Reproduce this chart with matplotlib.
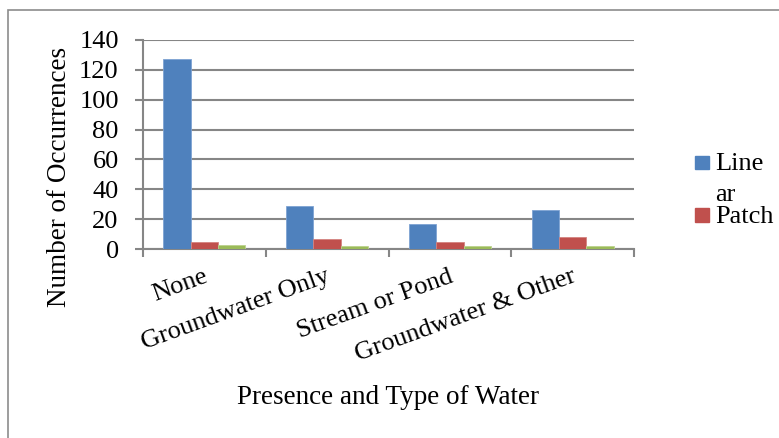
import matplotlib
matplotlib.use("Agg")
import matplotlib.pyplot as plt
from matplotlib.patches import Rectangle
import numpy as np

categories = ["None", "Groundwater Only", "Stream or Pond", "Groundwater & Other"]
linear = [127, 29, 17, 26]
patch = [5, 7, 5, 8]
other = [3, 2, 2, 2]
y_ticks = [0, 20, 40, 60, 80, 100, 120, 140]
legend_labels = ["Line\nar", "Patch"]

SERIF = ["Liberation Serif", "DejaVu Serif"]
plt.rcParams["font.family"] = SERIF
plt.rcParams["font.serif"] = SERIF

W, H = 779, 438
fig = plt.figure(figsize=(W / 100, H / 100), dpi=100)


def fx(px):
    return px / W


def fy(py):
    return 1 - py / H


# outer chart frame
fig.patches.append(Rectangle((fx(8), -0.05), 1.2, fy(10) + 0.05,
                             transform=fig.transFigure, fill=False,
                             edgecolor="#8c8c8c", linewidth=1.2))

ax = fig.add_axes([fx(143), fy(249), (634 - 143) / W, (249 - 40) / H])

x = np.arange(len(categories))
bw = 1 / 4.5
colors = ["#4F81BD", "#C0504D", "#9BBB59"]
edges = ["#7ea3d3", "#d48480", "#bcd28e"]
for i, (vals, c, e) in enumerate(zip([linear, patch, other], colors, edges)):
    ax.bar(x + (i - 1) * bw, vals, width=bw, color=c, edgecolor=e,
           linewidth=0.6, zorder=3)

ax.set_xlim(-0.5, len(categories) - 0.5)
ax.set_ylim(0, 140)
ax.set_yticks(y_ticks)
ax.set_yticklabels([str(v) for v in y_ticks], family=SERIF, fontsize=19)
ax.tick_params(axis="y", length=6, color="#868686", width=1.5, pad=11.5)
ax.yaxis.grid(True, color="#868686", linewidth=1.5, zorder=0)
ax.set_axisbelow(True)

# category boundary ticks on the x axis
ax.set_xticks(np.arange(-0.5, len(categories), 1.0))
ax.set_xticklabels([])
ax.tick_params(axis="x", length=6, color="#868686", width=1.5, direction="out")
for i, lab in enumerate(categories):
    ax.annotate(lab, xy=(i, 0), xycoords=("data", "axes fraction"),
                xytext=(-1, -12), textcoords="offset points",
                rotation=20, ha="right", va="top", rotation_mode="anchor",
                fontsize=19, family=SERIF)

for s in ["top", "right"]:
    ax.spines[s].set_visible(False)
for s in ["left", "bottom"]:
    ax.spines[s].set_color("#868686")
    ax.spines[s].set_linewidth(1.5)

fig.text(fx(60), fy(177), "Number of Occurrences", rotation=90,
         ha="center", va="center", fontsize=19.5, family=SERIF)
fig.text(fx(388), fy(398), "Presence and Type of Water",
         ha="center", va="center", fontsize=19.5, family=SERIF)

# legend: the first label wraps onto a second line that the next entry overlaps
fig.patches.append(Rectangle((fx(695), fy(169)), 14 / W, 13 / H,
                             transform=fig.transFigure, color=colors[0]))
fig.text(fx(715), fy(170), "Line", ha="left", va="baseline",
         fontsize=19, family=SERIF)
fig.text(fx(715), fy(201), "ar", ha="left", va="baseline",
         fontsize=19, family=SERIF)
fig.patches.append(Rectangle((fx(695), fy(222)), 14 / W, 14 / H,
                             transform=fig.transFigure, color=colors[1]))
fig.text(fx(715), fy(223), legend_labels[1], ha="left", va="baseline",
         fontsize=19, family=SERIF)

fig.savefig("out.png", dpi=100)
